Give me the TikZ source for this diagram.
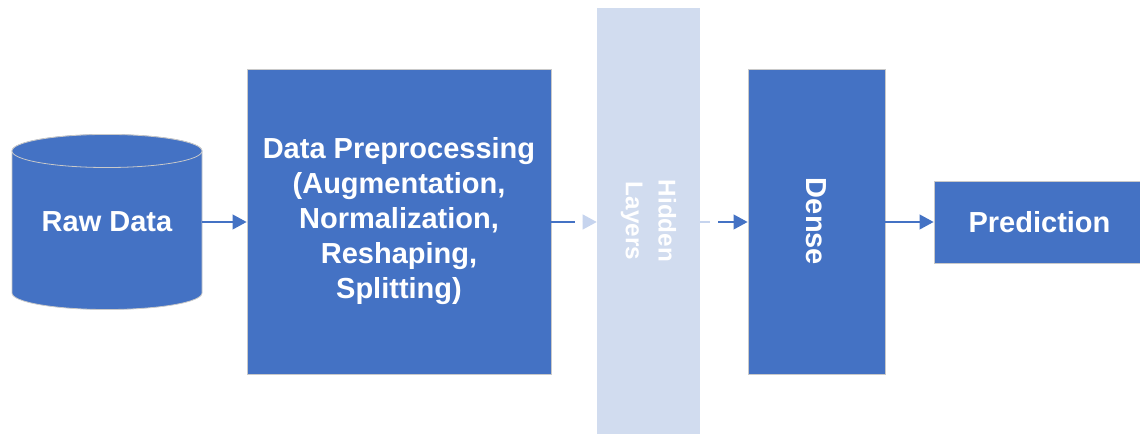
\documentclass[tikz,border=0pt]{standalone}
\usepackage{fontspec}
\setmainfont{Liberation Sans}
\usetikzlibrary{arrows.meta,calc}
\definecolor{blockblue}{HTML}{4472C4}
\definecolor{hiddenfill}{HTML}{D1DCEF}
\definecolor{fadedtip}{HTML}{C6D4EE}
\definecolor{edgegray}{HTML}{C9C9C9}
\tikzset{
  block/.style={draw=edgegray, line width=0.6pt, fill=blockblue, text=white,
    font=\bfseries\fontsize{21.75}{26.25}\selectfont, align=center, inner sep=0pt},
  hiddenbox/.style={fill=hiddenfill, draw=none, text=white,
    font=\bfseries\fontsize{18.2}{24.5}\selectfont, align=center, inner sep=0pt},
  flow/.style={draw=blockblue, line width=1.5pt, -{Triangle[length=10.5pt,width=11pt]}},
  flowline/.style={draw=blockblue, line width=1.5pt},
  fadedhead/.style={draw=fadedtip, line width=1.5pt, -{Triangle[length=10.5pt,width=11pt]}},
  fadedline/.style={draw=fadedtip, line width=1.2pt},
}
\begin{document}
\begin{tikzpicture}[x=0.75pt,y=0.75pt]
\useasboundingbox (0,0) rectangle (1140,434);
\fill[white] (0,0) rectangle (1140,434);

% raw data store (cylinder)
\path[fill=blockblue, draw=edgegray, line width=0.6pt]
  (12,283) -- (12,141)
  arc[start angle=180, end angle=360, x radius=71.25pt, y radius=12.4pt]
  -- (202,283)
  arc[start angle=0, end angle=180, x radius=71.25pt, y radius=12.4pt]
  -- cycle;
\path[fill=blockblue, draw=edgegray, line width=0.6pt]
  (107,283) ellipse[x radius=71.25pt, y radius=12.4pt];
\node[text=white, font=\bfseries\fontsize{21.75}{26.25}\selectfont,
  minimum width=142.5pt, inner sep=0pt] (raw) at (107,212) {Raw Data};

% processing blocks
\node[block, minimum width=228pt, minimum height=228.75pt] (pre) at (399,212.5)
  {Data Preprocessing\\(Augmentation,\\Normalization,\\Reshaping,\\Splitting)};
\node[hiddenbox, minimum width=77.25pt, minimum height=319.5pt] (hid) at (648.5,213) {};
\node[hiddenbox, rotate=-90] (hidtext) at (hid.center) {Hidden\\Layers};
\node[block, minimum width=102.75pt, minimum height=228.75pt] (dense) at (816.5,212.5) {};
\node[block, rotate=-90, draw=none, fill=none] (densetext) at (dense.center) {Dense};
\node[block, minimum width=158.25pt, minimum height=61.5pt] (pred) at (1039.5,212) {Prediction};

% connectors
\draw[flow] (raw.east |- 0,212) -- (pre.west |- 0,212);
\coordinate (preout) at (575,212);
\draw[flowline] (pre.east |- 0,212) -- (preout);
\draw[fadedhead] ($(hid.west |- 0,212)+(-14,0)$) -- (hid.west |- 0,212);
\coordinate (hidout) at (710,212);
\draw[fadedline] (hid.east |- 0,212) -- (hidout);
\coordinate (densein) at (718,212);
\draw[flow] (densein) -- (dense.west |- 0,212);
\draw[flow] (dense.east |- 0,212) -- (pred.west |- 0,212);
\end{tikzpicture}
\end{document}
